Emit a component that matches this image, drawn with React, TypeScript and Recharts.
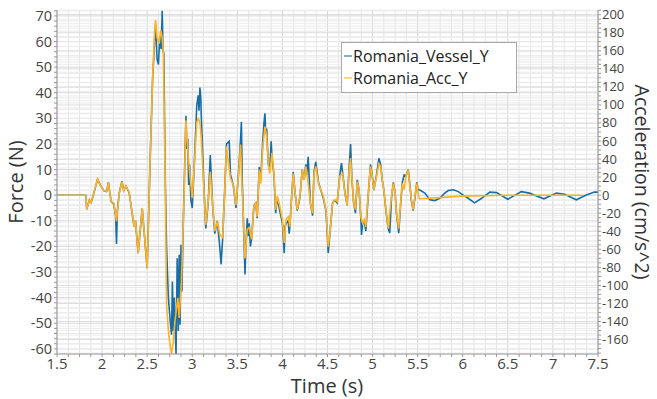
import { LineChart, Line, XAxis, YAxis, ReferenceLine, Legend } from 'recharts';

// time (s) / force (N) samples of the vessel load cell
const vesselSamples: [number, number][] = [
  [1.5, 0], [1.82, 0], [1.83, -5.5], [1.86, -1.8], [1.88, -2.9], [1.95, 6.2], [1.98, 4], [2.02, 1.7],
  [2.05, 1.4], [2.07, 5], [2.1, -2.5], [2.13, -3.5], [2.15, -8], [2.16, -19], [2.17, -6], [2.19, 0.8],
  [2.22, 5.5], [2.24, 1.8], [2.265, 3.6], [2.3, 1], [2.355, -12.3], [2.37, -9.9], [2.4, -22.6], [2.445, -5.1],
  [2.5, -28.5], [2.53, 10], [2.56, 45], [2.585, 62], [2.595, 66], [2.61, 53], [2.625, 51], [2.64, 62],
  [2.655, 57], [2.667, 72], [2.675, 57], [2.685, 55], [2.7, 8], [2.715, -20], [2.735, -40], [2.75, -46.7],
  [2.77, -54.5], [2.78, -33.7], [2.79, -53], [2.8, -40], [2.82, -62], [2.833, -24.6], [2.845, -53], [2.855, -23.3],
  [2.865, -50.6], [2.875, -19.4], [2.885, -37.6], [2.9, -11.6], [2.93, 31], [2.94, 18], [2.95, 22], [2.96, 4],
  [2.97, 12], [2.985, -2], [3.0, -5], [3.03, 18], [3.05, 35], [3.066, 39], [3.075, 33], [3.085, 42],
  [3.095, 38], [3.1, 31], [3.13, 3], [3.15, -13], [3.177, -3], [3.2, 15.7], [3.21, 8], [3.226, -4],
  [3.25, -15], [3.277, -10], [3.3, -18], [3.32, -27], [3.337, -17], [3.36, 2], [3.38, 20], [3.41, 21],
  [3.424, 8], [3.455, 4], [3.485, -5], [3.51, 7], [3.536, 22], [3.545, 28.7], [3.555, 5], [3.585, -31],
  [3.595, -20], [3.61, -9], [3.62, -16], [3.632, -11], [3.645, -20], [3.658, -17], [3.684, -4], [3.706, -3],
  [3.72, -9], [3.743, 11], [3.76, 6], [3.78, 20], [3.795, 28], [3.806, 32], [3.815, 24], [3.825, 26],
  [3.843, 12], [3.86, 10], [3.875, 21], [3.884, 15], [3.906, 8], [3.925, -7], [3.943, -1], [3.97, -6],
  [4.0, -11], [4.02, -22.6], [4.03, -12], [4.04, -11], [4.064, -10], [4.075, -15], [4.083, -12], [4.1, -2],
  [4.12, 9], [4.14, 1], [4.164, -6], [4.194, -1], [4.22, 10], [4.24, 6], [4.26, 12], [4.27, 8],
  [4.286, 15], [4.31, -3], [4.335, -8], [4.35, 9], [4.37, 13], [4.4, 5], [4.425, 2], [4.453, -1],
  [4.483, -6], [4.508, -22.6], [4.527, -15], [4.556, -3], [4.58, -2], [4.607, -3], [4.637, 8], [4.655, 12.5],
  [4.667, 9], [4.693, 1], [4.718, -4], [4.737, 9], [4.756, 20], [4.77, 7], [4.79, -3], [4.81, -7],
  [4.83, 6], [4.85, 2], [4.87, -9], [4.877, -15.5], [4.89, -11], [4.907, -10], [4.925, -14], [4.95, -1],
  [4.977, 12], [4.995, 8], [5.014, 2], [5.044, 8], [5.07, 14.4], [5.09, 12], [5.107, 6], [5.125, 2],
  [5.148, -6], [5.173, -13], [5.19, -14.8], [5.21, -1], [5.23, 5], [5.25, 1], [5.265, -7], [5.29, -14.8],
  [5.314, -2], [5.33, 5], [5.35, 7.9], [5.37, 7.5], [5.395, 10], [5.414, 4], [5.43, -2], [5.45, -6],
  [5.47, -1], [5.49, 5], [5.505, 2], [5.52, 2.1], [5.58, 0.8], [5.635, -1.8], [5.69, -2.1], [5.745, -1.2],
  [5.8, 0.8], [5.84, 1.8], [5.895, 2.1], [5.95, 1.4], [6.0, 0.1], [6.06, -1.2], [6.13, -3], [6.21, -1.2],
  [6.3, 1.2], [6.375, 1], [6.5, -1.6], [6.65, 1.4], [6.74, 0.8], [6.9, -1.4], [7.04, 0.8], [7.13, 0.4],
  [7.26, -1.8], [7.37, 0.1], [7.46, 1.2], [7.5, 1.2],
];

// time (s) / table acceleration (cm/s^2)
const accSamples: [number, number][] = [
  [1.5, 0], [1.82, 0], [1.83, -16], [1.86, -5], [1.88, -8], [1.95, 18], [1.98, 11], [2.02, 5],
  [2.05, 4], [2.07, 14], [2.1, -7], [2.13, -9], [2.16, -29], [2.19, 2], [2.22, 15], [2.24, 5],
  [2.265, 10], [2.3, 3], [2.355, -35], [2.37, -28], [2.4, -64], [2.445, -14], [2.5, -81], [2.53, 28],
  [2.56, 128], [2.585, 187], [2.594, 194], [2.61, 174], [2.634, 168], [2.65, 183], [2.667, 174], [2.68, 156],
  [2.7, 14], [2.715, -122], [2.74, -156], [2.77, -176], [2.79, -162], [2.808, -140], [2.84, -114], [2.855, -136],
  [2.88, -96], [2.907, -11], [2.93, 83], [2.947, 56], [2.97, 26], [3.0, -3], [3.03, 45], [3.05, 81],
  [3.066, 85], [3.085, 81], [3.1, 63], [3.13, 4], [3.15, -33], [3.177, -7], [3.2, 26], [3.226, -11],
  [3.25, -40], [3.277, -29], [3.307, -44], [3.337, -47], [3.36, 4], [3.38, 54], [3.4, 37], [3.424, 19],
  [3.455, 11], [3.485, -11], [3.51, 19], [3.536, 56], [3.55, 15], [3.585, -70], [3.61, -38], [3.632, -36],
  [3.658, -49], [3.684, -12], [3.706, -9], [3.72, -24], [3.743, 28], [3.76, 13], [3.78, 50], [3.806, 76],
  [3.825, 65], [3.843, 35], [3.86, 24], [3.884, 47], [3.906, 24], [3.925, -16], [3.943, -1], [3.97, -12],
  [4.0, -27], [4.02, -53], [4.04, -27], [4.064, -24], [4.083, -35], [4.1, -5], [4.12, 24], [4.14, 2],
  [4.164, -16], [4.194, -1], [4.22, 28], [4.24, 17], [4.26, 32], [4.286, 13], [4.31, -9], [4.335, -20],
  [4.35, 24], [4.37, 32], [4.4, 13], [4.425, 6], [4.453, -1], [4.483, -16], [4.508, -57], [4.527, -42],
  [4.556, -9], [4.58, -5], [4.607, -7], [4.637, 21], [4.667, 24], [4.693, 2], [4.718, -11], [4.737, 24],
  [4.756, 41], [4.77, 21], [4.79, -9], [4.81, -16], [4.83, 15], [4.85, 6], [4.87, -24], [4.89, -31],
  [4.907, -27], [4.925, -35], [4.95, -1], [4.977, 32], [4.995, 21], [5.014, 6], [5.044, 21], [5.07, 35],
  [5.09, 32], [5.107, 17], [5.125, 6], [5.148, -16], [5.173, -37], [5.19, -20], [5.21, -1], [5.23, 13],
  [5.25, 2], [5.265, -20], [5.29, -37], [5.314, -5], [5.33, 13], [5.35, 6], [5.37, 21], [5.395, 28],
  [5.414, 10], [5.43, -5], [5.45, -16], [5.47, -1], [5.49, 13], [5.505, 2], [5.52, -4], [5.7, -3],
  [6.0, -1], [6.5, 0], [7.33, 0],
];

const timeLabels = [1.5, 2, 2.5, 3, 3.5, 4, 4.5, 5, 5.5, 6, 6.5, 7, 7.5];
const forceLabels = [-60, -50, -40, -30, -20, -10, 0, 10, 20, 30, 40, 50, 60, 70];
const accLabels = [-160, -140, -120, -100, -80, -60, -40, -20, 0, 20, 40, 60, 80, 100, 120, 140, 160, 180, 200];

const seriesNames = ['Romania_Vessel_Y', 'Romania_Acc_Y'];
const VESSEL_COLOR = '#1a6ea6';
const ACC_COLOR = '#ffb224';

const vesselData = vesselSamples.map(([t, force]) => ({ t, force }));
const accData = accSamples.map(([t, acc]) => ({ t, acc }));

const range = (from: number, to: number, step: number) => {
  const out: number[] = [];
  for (let v = from; v <= to + 1e-9; v += step) out.push(Math.round(v * 1000) / 1000);
  return out;
};

const timeMinor = range(1.5, 7.5, 0.125);
const forceMinor = range(-62, 72, 2);
const accMinor = range(-175, 205, 5);

const FORCE_DOMAIN: [number, number] = [-62, 72.3];
const ACC_DOMAIN: [number, number] = [-176, 205.2];

const TimeTick = ({ x, y, payload }: any) =>
  timeLabels.includes(payload.value) ? (
    <text x={x} y={y} dy={10} textAnchor="middle" fontSize={15} fill="#444">{payload.value}</text>
  ) : null;

const ForceTick = ({ x, y, payload }: any) =>
  forceLabels.includes(payload.value) ? (
    <text x={x} y={y} dy={5} textAnchor="end" fontSize={14.5} fill="#444">{payload.value}</text>
  ) : null;

const AccTick = ({ x, y, payload }: any) =>
  accLabels.includes(payload.value) ? (
    <text x={x} y={y} dy={4.5} textAnchor="start" fontSize={13} fill="#444">{payload.value}</text>
  ) : null;

const LegendBox = () => (
  <div style={{ border: '1px solid #a8a8a8', background: '#fff', padding: '2px 4px 3px 2px', width: 168 }}>
    {seriesNames.map((name, i) => (
      <div key={name} style={{ display: 'flex', alignItems: 'center', height: 22, fontSize: 16, color: '#222' }}>
        <span style={{ width: 8, height: 0, borderTop: `2px solid ${i === 0 ? VESSEL_COLOR : ACC_COLOR}`, opacity: 0.55, marginRight: 1 }} />
        {name}
      </div>
    ))}
  </div>
);

export default function App() {
  return (
    <div style={{ position: 'absolute', left: 0, top: 0, width: 657, height: 399, background: '#fff', fontFamily: '"Open Sans", sans-serif' }}>
      <LineChart width={657} height={399} margin={{ top: 10, right: 0, bottom: 0, left: 0 }}>
        {timeMinor.map((v) => (
          <ReferenceLine key={`vx${v}`} x={v} yAxisId="force" stroke={v % 0.5 === 0 ? '#d4d4d4' : '#e4e4e4'} strokeWidth={1} />
        ))}
        {forceMinor.map((v) => (
          <ReferenceLine key={`hf${v}`} y={v} yAxisId="force" stroke={v % 10 === 0 ? '#d8d8d8' : '#e9e9e9'} strokeWidth={1} />
        ))}
        {accMinor.map((v) => (
          <ReferenceLine key={`ha${v}`} y={v} yAxisId="acc" stroke={v % 20 === 0 ? '#dddddd' : '#ececec'} strokeWidth={1} />
        ))}
        <XAxis
          type="number"
          dataKey="t"
          domain={[1.5, 7.5]}
          ticks={timeMinor}
          allowDataOverflow
          height={45}
          stroke="#999"
          tickSize={3}
          tick={<TimeTick />}
          interval={0}
          label={{
            content: () => (
              <text x={327} y={393} textAnchor="middle" fontSize={20} fill="#333">Time (s)</text>
            ),
          }}
        />
        <YAxis
          yAxisId="force"
          domain={FORCE_DOMAIN}
          ticks={forceMinor}
          allowDataOverflow
          width={57}
          stroke="#999"
          tickSize={3}
          tickMargin={2}
          tick={<ForceTick />}
          interval={0}
          label={{
            content: () => (
              <text x={23} y={182} transform="rotate(-90 23 182)" textAnchor="middle" fontSize={20} fill="#333">Force (N)</text>
            ),
          }}
        />
        <YAxis
          yAxisId="acc"
          orientation="right"
          domain={ACC_DOMAIN}
          ticks={accMinor}
          allowDataOverflow
          width={59}
          stroke="#999"
          tickSize={3}
          tickMargin={1}
          tick={<AccTick />}
          interval={0}
          label={{
            content: () => (
              <text x={635} y={182} transform="rotate(90 635 182)" textAnchor="middle" fontSize={19.5} fill="#333">Acceleration (cm/s^2)</text>
            ),
          }}
        />
        <Legend
          layout="vertical"
          align="center"
          verticalAlign="middle"
          wrapperStyle={{ left: 341, top: 42, width: 176 }}
          content={<LegendBox />}
        />
        <Line
          data={vesselData}
          yAxisId="force"
          dataKey="force"
          name={seriesNames[0]}
          type="linear"
          stroke={VESSEL_COLOR}
          strokeWidth={1.6}
          dot={false}
          isAnimationActive={false}
        />
        <Line
          data={accData}
          yAxisId="acc"
          dataKey="acc"
          name={seriesNames[1]}
          type="linear"
          stroke={ACC_COLOR}
          strokeWidth={1.6}
          dot={false}
          isAnimationActive={false}
        />
      </LineChart>
    </div>
  );
}
